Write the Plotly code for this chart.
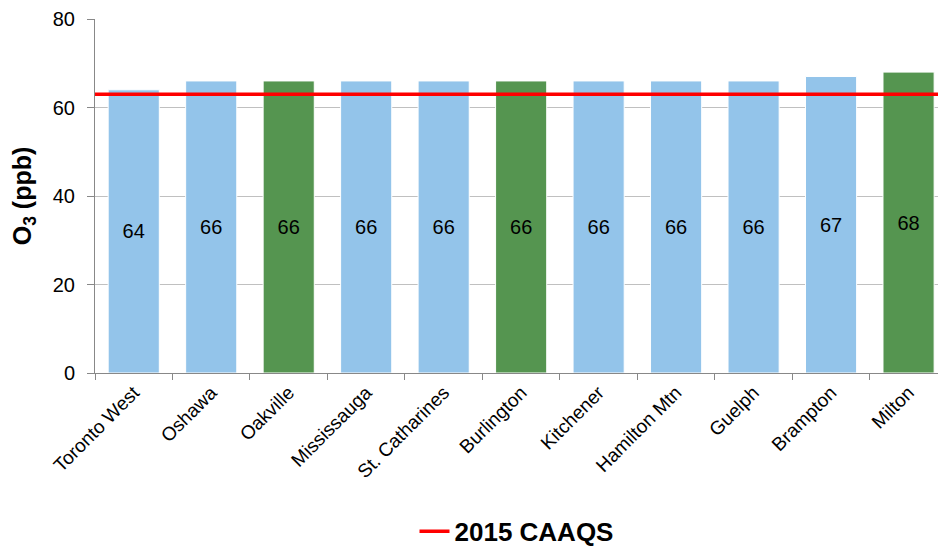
import plotly.graph_objects as go

stations = ["Toronto West", "Oshawa", "Oakville", "Mississauga", "St. Catharines",
            "Burlington", "Kitchener", "Hamilton Mtn", "Guelph", "Brampton", "Milton"]
o3_values = [64, 66, 66, 66, 66, 66, 66, 66, 66, 67, 68]
is_green = [False, False, True, False, False, True, False, False, False, False, True]
caaqs_value = 63
caaqs_name = "2015 CAAQS"
y_ticks = [0, 20, 40, 60, 80]

BLUE = "#93C4EA"
GREEN = "#559550"
colors = [GREEN if g else BLUE for g in is_green]

fig = go.Figure()
fig.add_trace(go.Bar(
    x=stations, y=o3_values,
    marker=dict(color=colors, line=dict(color="white", width=1)),
    text=[str(v) for v in o3_values],
    textposition="inside", insidetextanchor="middle",
    textfont=dict(color="black", size=20, family="Liberation Sans, Arial"),
    constraintext="none",
    showlegend=False, hoverinfo="x+y",
))
fig.add_trace(go.Scatter(
    x=[0, 1], y=[caaqs_value, caaqs_value], xaxis="x2",
    mode="lines", line=dict(color="#FF0000", width=3.5),
    name="<b>" + caaqs_name + "</b>", showlegend=True,
))

n = len(stations)
fig.update_layout(
    width=938, height=548,
    margin=dict(l=95, r=0, t=19, b=175, autoexpand=False),
    paper_bgcolor="white", plot_bgcolor="white",
    bargap=0.34,
    font=dict(family="Liberation Sans, Arial", color="black"),
    xaxis=dict(
        range=[-0.5, n - 0.62], type="category", automargin=False,
        tickangle=-45, tickfont=dict(size=19),
        ticks="outside", tickson="boundaries", ticklen=6, tickcolor="#888888",
        showline=True, linecolor="#888888", linewidth=1,
        showgrid=False, fixedrange=True,
    ),
    xaxis2=dict(overlaying="x", range=[0, 1], visible=False, fixedrange=True),
    yaxis=dict(
        range=[0, 80], tickvals=y_ticks, tickfont=dict(size=20), automargin=False,
        ticks="outside", ticklen=7, tickcolor="#888888", ticklabelstandoff=8,
        showline=True, linecolor="#888888", linewidth=1,
        showgrid=True, gridcolor="#C0C0C0", gridwidth=1,
        zeroline=False, fixedrange=True,
        title=dict(text="<b>O<sub>3</sub> (ppb)</b>", font=dict(size=25), standoff=14),
    ),
    legend=dict(
        orientation="h", x=0.5, xanchor="center", y=-0.447, yanchor="middle",
        font=dict(size=26, family="Liberation Sans, Arial"),
    ),
)

fig.write_html("out.html", config={"displayModeBar": False},
               post_script="document.body.style.margin='0';document.body.style.overflow='hidden';")
